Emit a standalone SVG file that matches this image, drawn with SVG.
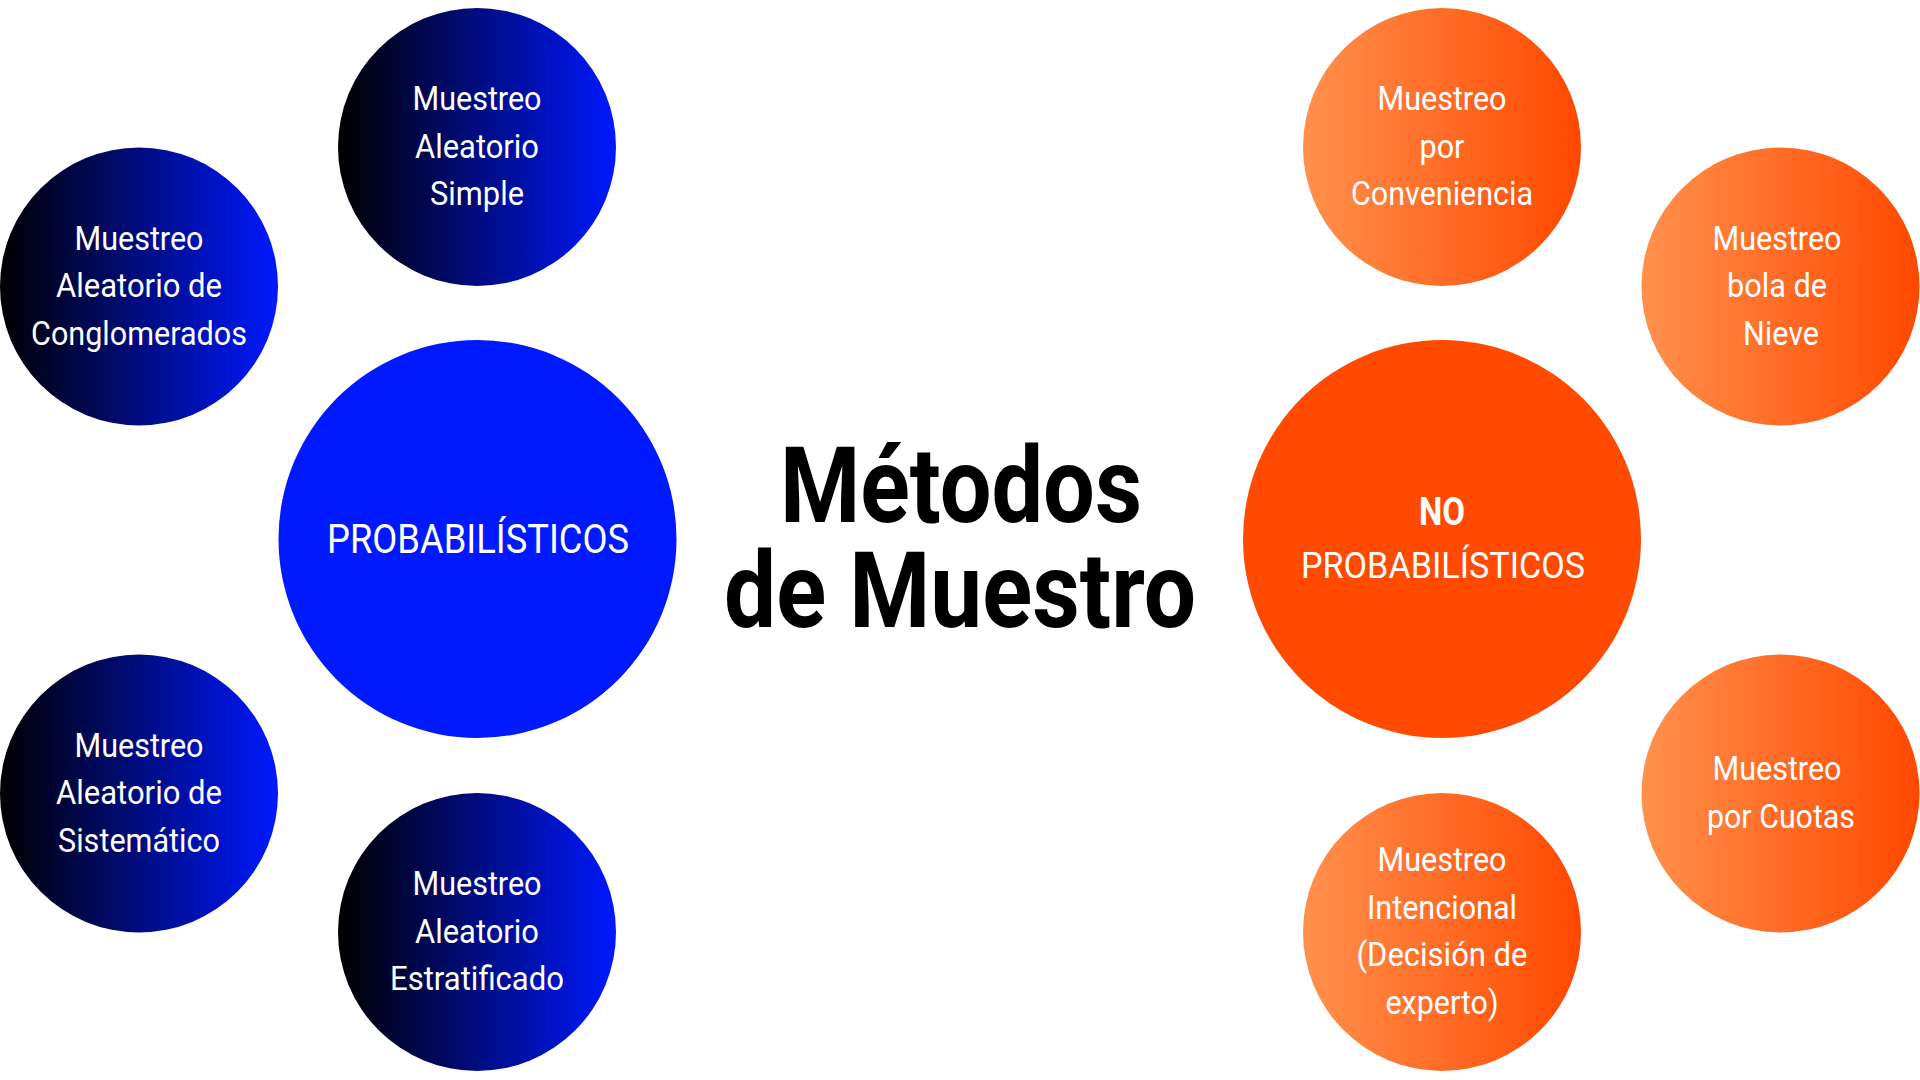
<svg xmlns="http://www.w3.org/2000/svg" width="1920" height="1080" viewBox="0 0 1920 1080">
<defs>
<linearGradient id="gBlue" x1="0" y1="0" x2="1" y2="0">
<stop offset="0" stop-color="#000000"/>
<stop offset="1" stop-color="#0019FF"/>
</linearGradient>
<linearGradient id="gOrange" x1="0" y1="0" x2="1" y2="0">
<stop offset="0" stop-color="#FF914D"/>
<stop offset="1" stop-color="#FF4800"/>
</linearGradient>
</defs>
<style>
.sb{fill:url(#gBlue)}
.so{fill:url(#gOrange)}
.t{font-family:Roboto,"Liberation Sans",sans-serif;font-size:34px;fill:#fff;text-anchor:middle}
.big{font-family:Roboto,"Liberation Sans",sans-serif;fill:#fff;text-anchor:middle}
.title{font-family:Roboto,"Liberation Sans",sans-serif;font-weight:700;font-size:105px;fill:#000;text-anchor:middle}
</style>
<rect width="1920" height="1080" fill="#fff"/>
<g id="connectors"/>

<g id="title">
<text class="title" x="961" y="522" textLength="362" lengthAdjust="spacingAndGlyphs">Métodos</text>
<text class="title" x="960" y="627" textLength="472" lengthAdjust="spacingAndGlyphs">de Muestro</text>
</g>

<g id="probabilisticos">
<circle cx="477.5" cy="539" r="199" fill="#0019FF"/>
<text class="big" x="478" y="553" font-size="40" textLength="302" lengthAdjust="spacingAndGlyphs">PROBABILÍSTICOS</text>
</g>

<g id="no-probabilisticos">
<circle cx="1442" cy="539" r="199" fill="#FF4A00"/>
<text class="big" x="1442" y="525" font-size="38" font-weight="700" textLength="46" lengthAdjust="spacingAndGlyphs">NO</text>
<text class="big" x="1443" y="578" font-size="37" textLength="284" lengthAdjust="spacingAndGlyphs">PROBABILÍSTICOS</text>
</g>

<g id="aleatorio-simple">
<circle class="sb" cx="477" cy="147" r="139"/>
<text class="t" x="477" y="110" textLength="129" lengthAdjust="spacingAndGlyphs">Muestreo</text>
<text class="t" x="477" y="157.5" textLength="124" lengthAdjust="spacingAndGlyphs">Aleatorio</text>
<text class="t" x="477" y="205" textLength="94" lengthAdjust="spacingAndGlyphs">Simple</text>
</g>

<g id="conglomerados">
<circle class="sb" cx="139" cy="286.5" r="139"/>
<text class="t" x="139" y="249.5" textLength="129" lengthAdjust="spacingAndGlyphs">Muestreo</text>
<text class="t" x="139" y="297" textLength="166" lengthAdjust="spacingAndGlyphs">Aleatorio de</text>
<text class="t" x="139" y="344.5" textLength="216" lengthAdjust="spacingAndGlyphs">Conglomerados</text>
</g>

<g id="sistematico">
<circle class="sb" cx="139" cy="793.5" r="139"/>
<text class="t" x="139" y="756.5" textLength="129" lengthAdjust="spacingAndGlyphs">Muestreo</text>
<text class="t" x="139" y="804" textLength="166" lengthAdjust="spacingAndGlyphs">Aleatorio de</text>
<text class="t" x="139" y="851.5" textLength="162" lengthAdjust="spacingAndGlyphs">Sistemático</text>
</g>

<g id="estratificado">
<circle class="sb" cx="477" cy="932" r="139"/>
<text class="t" x="477" y="895" textLength="129" lengthAdjust="spacingAndGlyphs">Muestreo</text>
<text class="t" x="477" y="942.5" textLength="124" lengthAdjust="spacingAndGlyphs">Aleatorio</text>
<text class="t" x="477" y="990" textLength="174" lengthAdjust="spacingAndGlyphs">Estratificado</text>
</g>

<g id="conveniencia">
<circle class="so" cx="1442" cy="147" r="139"/>
<text class="t" x="1442" y="110" textLength="129" lengthAdjust="spacingAndGlyphs">Muestreo</text>
<text class="t" x="1442" y="157.5" textLength="45" lengthAdjust="spacingAndGlyphs">por</text>
<text class="t" x="1442" y="205" textLength="182" lengthAdjust="spacingAndGlyphs">Conveniencia</text>
</g>

<g id="bola-de-nieve">
<circle class="so" cx="1780.5" cy="286.5" r="139"/>
<text class="t" x="1777" y="249.5" textLength="129" lengthAdjust="spacingAndGlyphs">Muestreo</text>
<text class="t" x="1777" y="297" textLength="100" lengthAdjust="spacingAndGlyphs">bola de</text>
<text class="t" x="1781" y="344.5" textLength="76" lengthAdjust="spacingAndGlyphs">Nieve</text>
</g>

<g id="cuotas">
<circle class="so" cx="1780.5" cy="793.5" r="139"/>
<text class="t" x="1777" y="779.5" textLength="129" lengthAdjust="spacingAndGlyphs">Muestreo</text>
<text class="t" x="1781" y="827.5" textLength="148" lengthAdjust="spacingAndGlyphs">por Cuotas</text>
</g>

<g id="intencional">
<circle class="so" cx="1442" cy="932" r="139"/>
<text class="t" x="1442" y="871" textLength="129" lengthAdjust="spacingAndGlyphs">Muestreo</text>
<text class="t" x="1442" y="918.5" textLength="150" lengthAdjust="spacingAndGlyphs">Intencional</text>
<text class="t" x="1442" y="966" textLength="171" lengthAdjust="spacingAndGlyphs">(Decisión de</text>
<text class="t" x="1442" y="1013.5" textLength="113" lengthAdjust="spacingAndGlyphs">experto)</text>
</g>
</svg>
